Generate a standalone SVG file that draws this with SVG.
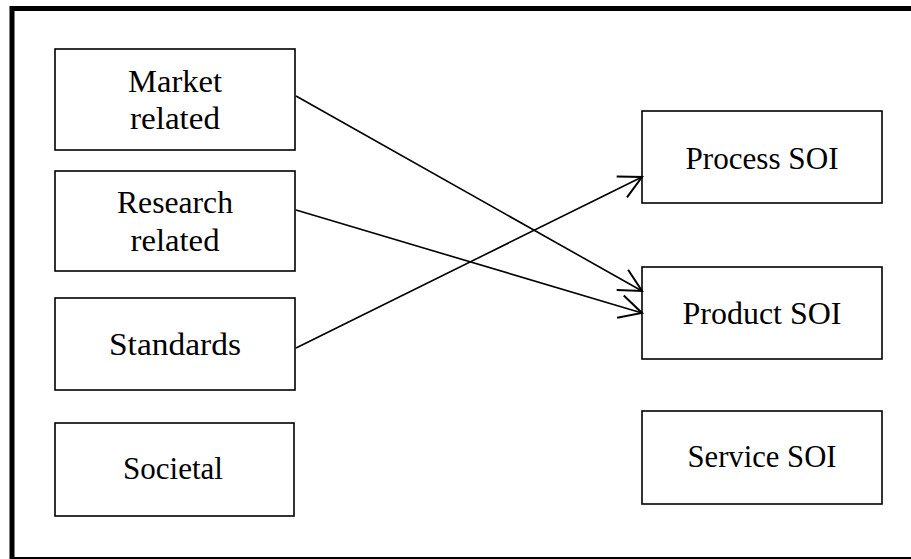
<svg xmlns="http://www.w3.org/2000/svg" width="911" height="559" viewBox="0 0 911 559">
  <style>
    .box { fill: #ffffff; stroke: #000000; stroke-width: 1.6; }
    .lbl { font-family: "Liberation Serif", "Times New Roman", serif; font-size: 32px; fill: #000000; text-anchor: middle; }
    .edge { fill: none; stroke: #000000; stroke-width: 1.6; marker-end: url(#head); }
  </style>
  <defs>
    <marker id="head" markerUnits="userSpaceOnUse" markerWidth="30" markerHeight="30" viewBox="-22 -12 24 24" refX="0" refY="0" orient="auto" overflow="visible">
      <path d="M-18,-9.3 L0,0 L-18,9.3" fill="none" stroke="#000000" stroke-width="1.6" stroke-linejoin="miter"/>
    </marker>
  </defs>
  <rect width="911" height="559" fill="#ffffff"/>
  <!-- outer frame -->
  <rect x="12" y="8.5" width="910" height="551" fill="none" stroke="#000000" stroke-width="5"/>

  <g id="market">
    <rect class="box" x="55" y="49" width="240" height="101"/>
    <text class="lbl" x="175" y="92" textLength="94" lengthAdjust="spacingAndGlyphs">Market</text>
    <text class="lbl" x="175" y="129" textLength="90" lengthAdjust="spacingAndGlyphs">related</text>
  </g>
  <g id="research">
    <rect class="box" x="55" y="171" width="240" height="100"/>
    <text class="lbl" x="175" y="213" textLength="116" lengthAdjust="spacingAndGlyphs">Research</text>
    <text class="lbl" x="175" y="251" textLength="89" lengthAdjust="spacingAndGlyphs">related</text>
  </g>
  <g id="standards">
    <rect class="box" x="55" y="298" width="240" height="92"/>
    <text class="lbl" x="175" y="355" textLength="132" lengthAdjust="spacingAndGlyphs">Standards</text>
  </g>
  <g id="societal">
    <rect class="box" x="55" y="423" width="239" height="93"/>
    <text class="lbl" x="173" y="479" textLength="100" lengthAdjust="spacingAndGlyphs">Societal</text>
  </g>
  <g id="process">
    <rect class="box" x="642" y="111" width="240" height="92"/>
    <text class="lbl" x="762" y="169" textLength="153" lengthAdjust="spacingAndGlyphs">Process SOI</text>
  </g>
  <g id="product">
    <rect class="box" x="642" y="267" width="240" height="92"/>
    <text class="lbl" x="762" y="324" textLength="159" lengthAdjust="spacingAndGlyphs">Product SOI</text>
  </g>
  <g id="service">
    <rect class="box" x="642" y="411" width="240" height="93"/>
    <text class="lbl" x="762" y="467" textLength="149" lengthAdjust="spacingAndGlyphs">Service SOI</text>
  </g>

  <g id="connectors">
    <line class="edge" x1="296" y1="96" x2="642" y2="291"/>
    <line class="edge" x1="296" y1="210" x2="642" y2="313"/>
    <line class="edge" x1="296" y1="348" x2="642" y2="177"/>
  </g>
</svg>
